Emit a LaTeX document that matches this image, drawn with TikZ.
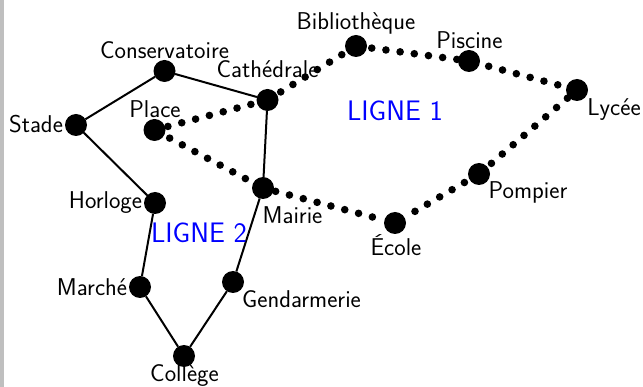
\documentclass[tikz,border=0pt]{standalone}
\usepackage{fontspec}
\setsansfont{Latin Modern Sans}
\tikzset{
  station/.style={circle,fill=black,draw=none,minimum size=22pt,inner sep=0pt,outer sep=0pt},
  solidline/.style={line width=2pt,black},
  dotline/.style={line width=7.6pt,black,line cap=round,dash pattern=on 0pt off 14.3pt,dash phase=#1},
  lab/.style={anchor=base,inner sep=0pt,text=black,font=\sffamily\fontsize{24.3}{28}\selectfont},
  linelab/.style={anchor=base,inner sep=0pt,text=blue,font=\sffamily\fontsize{28.2}{32}\selectfont}
}
\begin{document}
\begin{tikzpicture}[x=1pt,y=-1pt]
\useasboundingbox (0,0) rectangle (643,387);
\fill[black!25] (0,0) rectangle (3.5,387);
\node[station] (stade) at (76,125) {};
\node[station] (cons) at (164.5,71) {};
\node[station] (cath) at (267.5,100) {};
\node[station] (place) at (154.5,130) {};
\node[station] (mairie) at (263,188) {};
\node[station] (horl) at (155,203) {};
\node[station] (marche) at (140,287) {};
\node[station] (coll) at (184,356) {};
\node[station] (gend) at (233,282) {};
\node[station] (bib) at (356,46) {};
\node[station] (pisc) at (469,61) {};
\node[station] (lyc) at (577,90) {};
\node[station] (pomp) at (479,174) {};
\node[station] (ecole) at (395,223) {};
\draw[solidline] (stade)--(cons);
\draw[solidline] (cons)--(cath);
\draw[solidline] (cath)--(mairie);
\draw[solidline] (mairie)--(gend);
\draw[solidline] (gend)--(coll);
\draw[solidline] (coll)--(marche);
\draw[solidline] (marche)--(horl);
\draw[solidline] (horl)--(stade);
\node[lab] (t1) at (36,133) {Stade};
\node[lab] (t2) at (164.5,59) {Conservatoire};
\node[lab] (t3) at (267.5,78) {Cathédrale};
\node[lab] (t4) at (155,118) {Place};
\node[lab] (t5) at (292.5,224) {Mairie};
\node[lab] (t6) at (105.5,209) {Horloge};
\node[lab] (t7) at (92,296) {Marché};
\node[lab] (t8) at (184.5,381.5) {Collège};
\node[lab] (t9) at (301.5,308) {Gendarmerie};
\node[lab] (t10) at (356,30) {Bibliothèque};
\node[lab] (t11) at (469.5,49) {Piscine};
\node[lab] (t12) at (614,116) {Lycée};
\node[lab] (t13) at (528,199) {Pompier};
\node[lab] (t14) at (396,256) {École};
\node[linelab] (l1) at (395,121) {LIGNE 1};
\node[linelab] (l2) at (199,243) {LIGNE 2};
\draw[dotline=11.4pt] (place)--(cath);
\draw[dotline=9.8pt] (cath)--(bib);
\draw[dotline=9.4pt] (bib)--(pisc);
\draw[dotline=4.9pt] (pisc)--(lyc);
\draw[dotline=12.7pt] (lyc)--(pomp);
\draw[dotline=8.4pt] (pomp)--(ecole);
\draw[dotline=1.9pt] (ecole)--(mairie);
\draw[dotline=5.3pt] (mairie)--(place);
\end{tikzpicture}
\end{document}
